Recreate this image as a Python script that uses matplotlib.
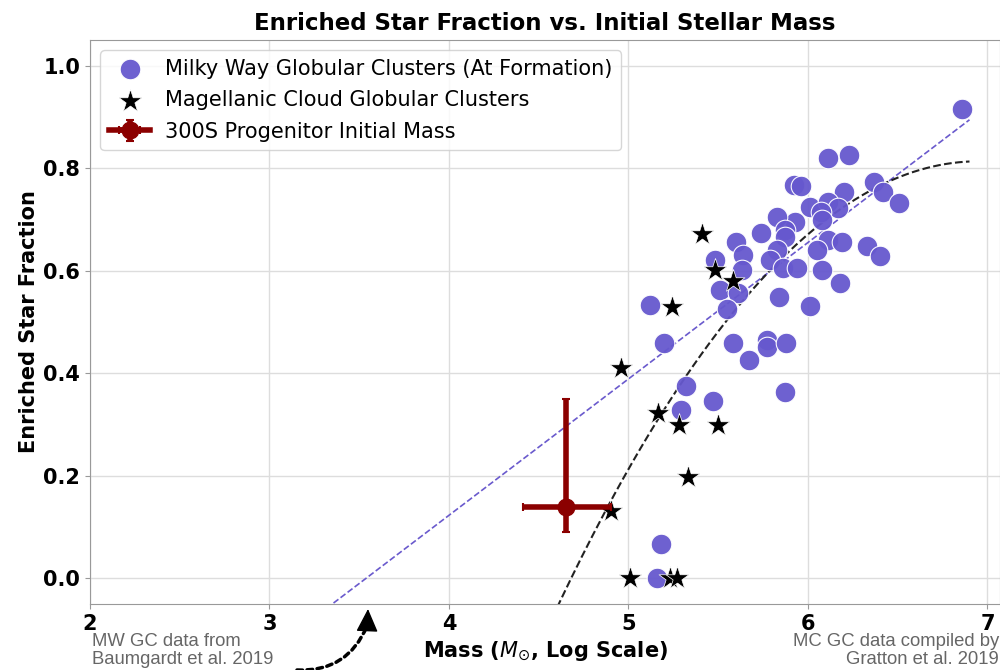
import numpy as np
import matplotlib.pyplot as plt

# Milky Way globular clusters (log initial mass, enriched fraction)
mw_mass = [6.11, 6.23, 5.92, 5.96, 6.37, 6.42, 6.51, 6.20, 6.01, 6.11, 6.17, 6.07,
           6.08, 5.93, 5.83, 5.74, 5.87, 5.87, 5.60, 5.64, 5.83, 5.79, 5.86, 5.94,
           6.11, 6.19, 6.05, 6.33, 6.40, 6.08, 6.18, 5.48, 5.63, 5.51, 5.61, 5.55,
           5.12, 6.01, 5.84, 5.20, 5.58, 5.77, 5.77, 5.88, 5.67, 5.32, 5.47, 5.87,
           5.29, 5.18, 5.16, 6.86]
mw_frac = [0.820, 0.826, 0.767, 0.765, 0.774, 0.754, 0.732, 0.754, 0.725, 0.734, 0.722, 0.715,
           0.699, 0.696, 0.705, 0.674, 0.680, 0.665, 0.656, 0.631, 0.641, 0.621, 0.605, 0.605,
           0.660, 0.656, 0.641, 0.648, 0.629, 0.602, 0.576, 0.621, 0.602, 0.563, 0.557, 0.525,
           0.533, 0.531, 0.549, 0.459, 0.459, 0.465, 0.451, 0.459, 0.426, 0.375, 0.346, 0.363,
           0.328, 0.068, 0.0, 0.916]

# Magellanic Cloud globular clusters
mc_mass = [5.41, 5.48, 5.58, 5.24, 4.96, 5.165, 5.28, 5.50, 5.33, 4.90, 5.01, 5.23, 5.27]
mc_frac = [0.672, 0.602, 0.580, 0.530, 0.410, 0.322, 0.299, 0.299, 0.197, 0.131, 0.0, 0.0, 0.0]

# 300S progenitor
prog_mass, prog_frac = 4.65, 0.14
prog_xerr = [[0.24], [0.25]]
prog_yerr = [[0.05], [0.21]]

# fit coefficients
mw_fit = [0.266, -0.941]
mc_fit = [-0.158, 2.196, -6.817]

fig = plt.figure(figsize=(10, 6.7), dpi=100)
ax = fig.add_axes([0.09, 0.0985, 0.91, 0.8418])

xl = np.linspace(3.2, 6.9, 200)
ax.plot(xl, np.polyval(mw_fit, xl), '--', color='#6A5ACD', lw=1.2, zorder=2)
xq = np.linspace(4.5, 6.9, 200)
ax.plot(xq, np.polyval(mc_fit, xq), '--', color='#222222', lw=1.5, zorder=2)

ax.scatter(mw_mass, mw_frac, s=220, color='#6658CE', edgecolors='white', linewidths=0.8,
           alpha=0.95, zorder=3, label='Milky Way Globular Clusters (At Formation)')
ax.scatter(mc_mass, mc_frac, s=300, marker='*', color='black', edgecolors='white',
           linewidths=0.5, zorder=4, label='Magellanic Cloud Globular Clusters')
ax.errorbar(prog_mass, prog_frac, xerr=prog_xerr, yerr=prog_yerr, fmt='o-', color='darkred',
            ms=12, lw=4, elinewidth=4, capsize=3, capthick=1.5, zorder=5,
            label='300S Progenitor Initial Mass')

ax.set_xlim(2, 7.07)
ax.set_ylim(-0.05, 1.05)
ax.set_xticks([2, 3, 4, 5, 6, 7])
ax.set_yticks([0.0, 0.2, 0.4, 0.6, 0.8, 1.0])
ax.grid(color='#dddddd', lw=1)
ax.set_axisbelow(True)
for s in ax.spines.values():
    s.set_color('#999999')
ax.tick_params(colors='#999999', labelcolor='black', labelsize=15)
for lab in ax.get_xticklabels() + ax.get_yticklabels():
    lab.set_fontweight('bold')

ax.set_title('Enriched Star Fraction vs. Initial Stellar Mass', fontsize=16.5,
             fontweight='bold', pad=7)
ax.set_xlabel(r'Mass ($M_{\odot}$, Log Scale)', fontsize=15, fontweight='bold', labelpad=4)
ax.set_ylabel('Enriched Star Fraction', fontsize=15, fontweight='bold', labelpad=3)

ax.legend(loc='upper left', fontsize=15, borderaxespad=0.5, handletextpad=0.7,
          labelspacing=0.55, handlelength=2.0)

fig.text(0.092, 0.003, 'MW GC data from\nBaumgardt et al. 2019', fontsize=13.3,
         color='#666666', family='Liberation Sans', ha='left', va='bottom', linespacing=1.05)
fig.text(0.999, 0.003, 'MC GC data compiled by\nGratton et al. 2019', fontsize=13.3,
         color='#666666', family='Liberation Sans', ha='right', va='bottom', linespacing=1.05)

# dashed curved pointer plus a solid head
ax.annotate('', xy=(0.367, 1 - 626 / 670), xycoords='figure fraction',
            xytext=(0.297, 0.0), textcoords='figure fraction',
            arrowprops=dict(arrowstyle='-', color='black', lw=2.5, ls=(0, (1.6, 1.3)),
                            connectionstyle='arc3,rad=0.35', shrinkA=0, shrinkB=0),
            annotation_clip=False)
ax.annotate('', xy=(0.368, 1 - 609 / 670), xycoords='figure fraction',
            xytext=(0.3672, 1 - 628 / 670), textcoords='figure fraction',
            arrowprops=dict(arrowstyle='-|>,head_length=0.8,head_width=0.38', color='black',
                            lw=1, mutation_scale=18, shrinkA=0, shrinkB=0),
            annotation_clip=False)

fig.savefig('out.png', dpi=100)
